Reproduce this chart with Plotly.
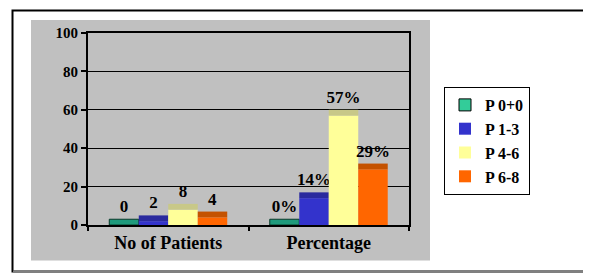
import plotly.graph_objects as go

categories = ["No of Patients", "Percentage"]
series_names = ["P 0+0", "P 1-3", "P 4-6", "P 6-8"]
values = {
    "P 0+0": [0, 0],
    "P 1-3": [2, 14],
    "P 4-6": [8, 57],
    "P 6-8": [4, 29],
}
labels = {
    "P 0+0": ["0", "0%"],
    "P 1-3": ["2", "14%"],
    "P 4-6": ["8", "57%"],
    "P 6-8": ["4", "29%"],
}
y_ticks = [0, 20, 40, 60, 80, 100]

# styling
front_colors = {"P 0+0": "#33cc99", "P 1-3": "#3333cc", "P 4-6": "#ffff99", "P 6-8": "#ff6600"}
top_colors = {"P 0+0": "#1f9a7c", "P 1-3": "#2a2a9e", "P 4-6": "#c8c888", "P 6-8": "#c45200"}
DEPTH = 3  # visual depth of the 3-D top face, in axis units

FONT = "Liberation Serif"
OFF = 8  # browser body margin
W, H = 591 - OFF, 273 - OFF
L = 88 - OFF
T = 33 - OFF
PW, PH = 409 - 88, 225 - 33
R = W - L - PW
B = H - T - PH


def px(xp):
    return (xp - OFF - L) / PW


def py(yp):
    return (T + PH - (yp - OFF)) / PH


fig = go.Figure()
for name in series_names:
    vals = values[name]
    fig.add_trace(go.Bar(
        x=categories, y=vals, name=name, offsetgroup=name,
        marker=dict(color=front_colors[name],
                    line=dict(color="black" if name == "P 0+0" else front_colors[name],
                              width=1 if name == "P 0+0" else 0)),
        showlegend=True, hoverinfo="skip",
    ))
    fig.add_trace(go.Bar(
        x=categories, y=[DEPTH] * len(vals), base=vals, offsetgroup=name,
        marker=dict(color=top_colors[name],
                    line=dict(color="#0a3a2a" if name == "P 0+0" else top_colors[name],
                              width=1 if name == "P 0+0" else 0)),
        text=labels[name], textposition="outside", constraintext="none",
        textfont=dict(family=FONT, size=17, color="black", weight="bold"),
        cliponaxis=False, showlegend=False, hoverinfo="skip",
    ))

shapes = [
    dict(type="rect", xref="paper", yref="paper", layer="below",
         x0=px(12.5), x1=px(588), y0=py(271.5), y1=py(10.5),
         fillcolor="white", line=dict(color="black", width=2)),
    dict(type="rect", xref="paper", yref="paper", layer="below",
         x0=px(31), x1=px(430), y0=py(260.5), y1=py(20),
         fillcolor="#c0c0c0", line=dict(width=0)),
    dict(type="line", xref="paper", yref="paper", layer="below",
         x0=px(13), x1=px(587), y0=py(271.5), y1=py(271.5),
         line=dict(color="#808080", width=2)),
]

fig.update_layout(
    width=W, height=H,
    margin=dict(l=L, r=R, t=T, b=B, pad=0, autoexpand=False),
    paper_bgcolor="white", plot_bgcolor="#c0c0c0",
    barmode="group", bargap=0.265, bargroupgap=0,
    shapes=shapes,
    showlegend=True,
    legend=dict(x=px(444), xanchor="left", y=py(87), yanchor="top",
                bgcolor="white", bordercolor="black", borderwidth=1,
                itemwidth=30,
                font=dict(family=FONT, size=16, color="black", weight="bold"),
                traceorder="normal"),
    font=dict(family=FONT, color="black"),
)
fig.update_xaxes(
    automargin=False,
    showline=True, linecolor="black", linewidth=2, mirror=True,
    ticks="outside", tickson="boundaries", ticklen=4, tickcolor="black", tickwidth=1.5,
    tickfont=dict(family=FONT, size=18, color="black", weight="bold"),
    showgrid=False,
)
fig.update_yaxes(
    automargin=False,
    range=[0, 100], tickvals=y_ticks,
    showline=True, linecolor="black", linewidth=2, mirror=True,
    ticks="outside", ticklen=5, tickcolor="black", tickwidth=1.5,
    tickfont=dict(family=FONT, size=15, color="black", weight="bold"),
    showgrid=True, gridcolor="black", gridwidth=1, zeroline=False,
)

fig.write_html("out.html")
